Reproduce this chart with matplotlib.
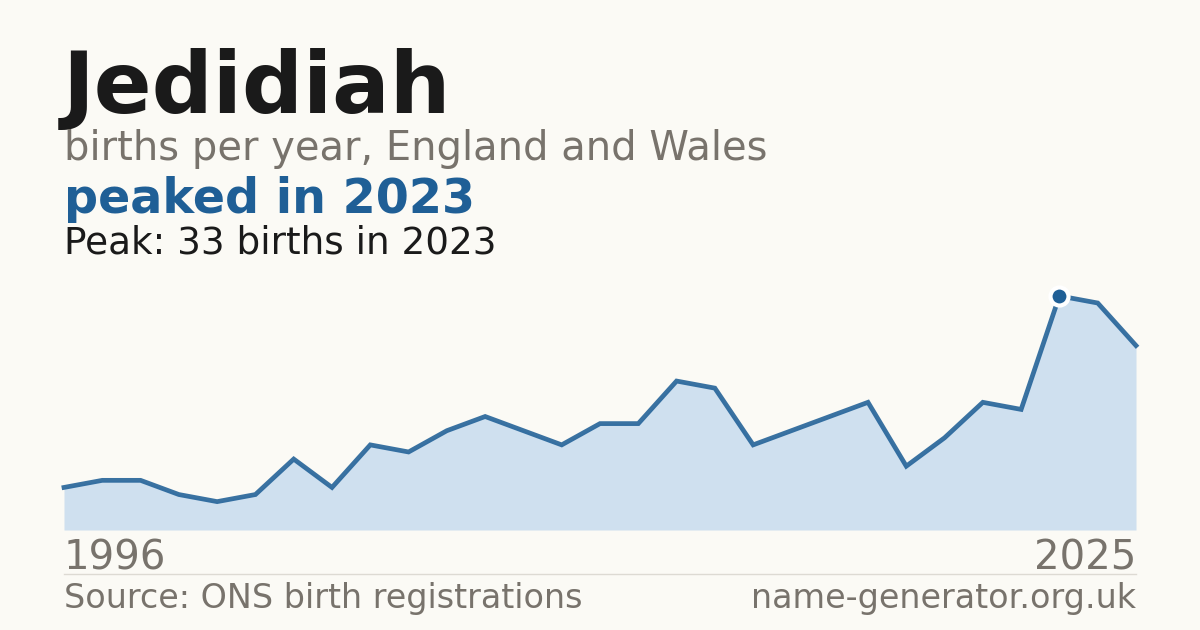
import numpy as np
import matplotlib
matplotlib.use("Agg")
import matplotlib.pyplot as plt

name = "Jedidiah"
first_year = 1996
last_year = 2025
peak_year = 2023
births = [6, 7, 7, 5, 4, 5, 10, 6, 12, 11, 14, 16, 14, 12, 15, 15, 21, 20,
          12, 14, 16, 18, 9, 13, 18, 17, 33, 32, 26]

BG = "#fbfaf5"
BLUE = "#1f5f96"
FILL = "#cfe0ef"
GREY = "#78736c"
DARK = "#1a1a1a"

W, H = 1200, 630
fig = plt.figure(figsize=(W / 100, H / 100), dpi=100, facecolor=BG)


def px(x, y):
    return x / W, 1 - y / H


def label(x, y, s, **kw):
    fx, fy = px(x, y)
    fig.text(fx, fy, s, va="baseline", family="DejaVu Sans", **kw)


label(63, 113, name, fontsize=61.5, fontweight="bold", color=DARK)
label(64, 160, "births per year, England and Wales", fontsize=28.8, color=GREY)
label(64, 213, f"peaked in {peak_year}", fontsize=34.3, fontweight="bold", color=BLUE)
peak_val = max(births)
label(64, 253, f"Peak: {peak_val} births in {peak_year}", fontsize=26.9, color=DARK)

# chart area
left, top, right, bottom = 64, 280, 1136, 530
ax = fig.add_axes([left / W, 1 - bottom / H, (right - left) / W, (bottom - top) / H])
ax.set_facecolor(BG)
x = np.arange(len(births))
y = np.array(births)
ax.fill_between(x, 0, y, color=FILL, lw=0)
ax.plot(x, y, color=BLUE, lw=3.4, alpha=0.88, solid_joinstyle="miter", clip_on=False)
i = int(np.argmax(y))
ax.plot(x[i], y[i], "o", ms=13, color=BLUE, mec="white", mew=3, clip_on=False, zorder=5)
ax.set_xlim(0, len(births) - 1)
ax.set_ylim(0, peak_val * 1.068)
ax.axis("off")

label(64, 569, str(first_year), fontsize=28.9, color=GREY)
label(1136, 569, str(last_year), fontsize=28.9, color=GREY, ha="right")

fig.add_artist(plt.Line2D([64 / W, 1136 / W], [1 - 574 / H] * 2, color="#dddad3", lw=1))

label(64, 608, "Source: ONS birth registrations", fontsize=24, color=GREY)
label(1136, 608, "name-generator.org.uk", fontsize=24, color=GREY, ha="right")

fig.savefig("out.png", dpi=100, facecolor=BG)
